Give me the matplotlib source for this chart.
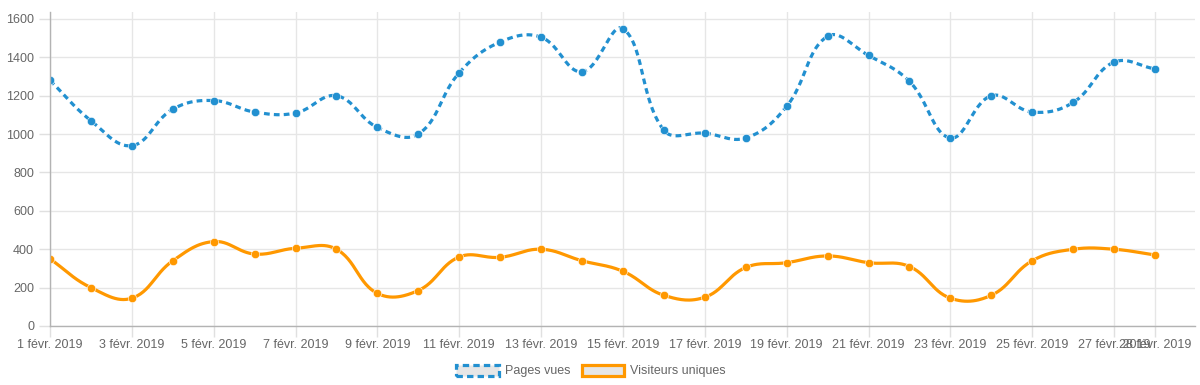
import numpy as np
import matplotlib
matplotlib.use("Agg")
import matplotlib.pyplot as plt
from matplotlib.patches import Patch

plt.rcParams['font.family'] = ['Liberation Sans', 'DejaVu Sans']

days = list(range(1, 29))
pages_vues = [1280, 1070, 940, 1130, 1175, 1115, 1110, 1200, 1035, 1000,
              1320, 1480, 1505, 1325, 1550, 1020, 1005, 980, 1145, 1510,
              1410, 1275, 980, 1200, 1115, 1165, 1375, 1340]
visiteurs = [350, 200, 145, 340, 440, 375, 405, 400, 170, 185,
             360, 358, 400, 340, 285, 160, 150, 305, 330, 365,
             330, 310, 145, 160, 340, 400, 400, 370]
tick_days = [1, 3, 5, 7, 9, 11, 13, 15, 17, 19, 21, 23, 25, 27, 28]
tick_labels = ["%d févr. 2019" % d for d in tick_days]

blue = '#2290d0'
orange = '#ff9800'


def spline(ax, xs, ys, tension=0.4, n=30):
    # chart.js style bezier, control points computed in pixel space
    pts = ax.transData.transform(np.column_stack([xs, ys]))
    out = []
    m = len(pts)
    cps = []
    for i in range(m):
        prev = pts[max(i - 1, 0)]
        cur = pts[i]
        nxt = pts[min(i + 1, m - 1)]
        d01 = np.hypot(*(cur - prev))
        d12 = np.hypot(*(nxt - cur))
        tot = d01 + d12
        s01 = d01 / tot if tot else 0
        s12 = d12 / tot if tot else 0
        cps.append((cur - tension * s01 * (nxt - prev), cur + tension * s12 * (nxt - prev)))
    t = np.linspace(0, 1, n)[:, None]
    for i in range(m - 1):
        p0 = pts[i]; p1 = cps[i][1]; p2 = cps[i + 1][0]; p3 = pts[i + 1]
        seg = ((1 - t) ** 3) * p0 + 3 * ((1 - t) ** 2) * t * p1 + 3 * (1 - t) * t ** 2 * p2 + t ** 3 * p3
        out.append(seg if i == 0 else seg[1:])
    out = np.vstack(out)
    return ax.transData.inverted().transform(out)


fig = plt.figure(figsize=(12, 3.85), dpi=100)
ax = fig.add_axes([50 / 1200, 1 - 326 / 385, 1145 / 1200, 314 / 385])
ymax = 1600 + 7 / 307 * 1600
ax.set_xlim(1, 28 + 40 / 40.93)
ax.set_ylim(0, ymax)

for s in ['top', 'right']:
    ax.spines[s].set_visible(False)
for s in ['left', 'bottom']:
    ax.spines[s].set_color('#b3b3b3')
    ax.spines[s].set_linewidth(1)

ax.set_yticks(range(0, 1601, 200))
ax.set_xticks(tick_days)
ax.set_xticklabels(tick_labels)
ax.tick_params(colors='#e0e0e0', labelcolor='#666666', labelsize=9, length=8, width=1)
ax.tick_params(axis='x', pad=1.5)
ax.grid(True, color='#e6e6e6', linewidth=1)
ax.set_axisbelow(True)

c1 = spline(ax, days, pages_vues)
ax.plot(c1[:, 0], c1[:, 1], color=blue, lw=2.3, dashes=(1.8, 1.3), solid_capstyle='butt')
ax.plot(days, pages_vues, 'o', color=blue, ms=6, mec='white', mew=0.4)

c2 = spline(ax, days, visiteurs)
ax.plot(c2[:, 0], c2[:, 1], color=orange, lw=2.3)
ax.plot(days, visiteurs, 'o', color=orange, ms=6, mec='white', mew=0.4)

handles = [Patch(facecolor='#e6e6e6', edgecolor=blue, linestyle=(0, (2, 1.3)), linewidth=2.3, label='Pages vues'),
           Patch(facecolor='#e6e6e6', edgecolor=orange, linewidth=2.3, label='Visiteurs uniques')]
leg = fig.legend(handles=handles, loc='center', bbox_to_anchor=(591 / 1200, 1 - 371 / 385), ncol=2,
                 frameon=False, fontsize=9, handlelength=3.4, handleheight=1.0,
                 handletextpad=0.5, columnspacing=0.9)
for t in leg.get_texts():
    t.set_color('#666666')

fig.savefig("out.png", dpi=100)
